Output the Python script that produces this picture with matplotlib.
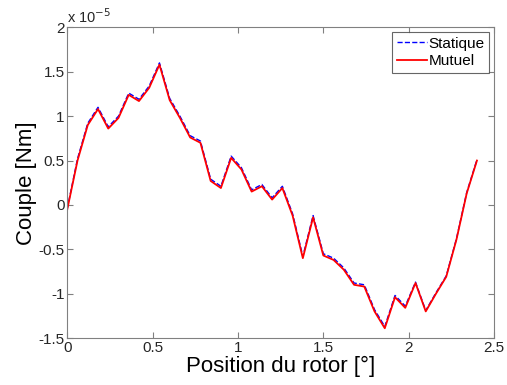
import matplotlib
matplotlib.use("Agg")
import matplotlib.pyplot as plt

plt.rcParams['font.family'] = ['Liberation Sans', 'DejaVu Sans']

# rotor position [deg]
position = [0.00, 0.06, 0.12, 0.18, 0.24, 0.30, 0.36, 0.42, 0.48, 0.54,
            0.60, 0.66, 0.72, 0.78, 0.84, 0.90, 0.96, 1.02, 1.08, 1.14,
            1.20, 1.26, 1.32, 1.38, 1.44, 1.50, 1.56, 1.62, 1.68, 1.74,
            1.80, 1.86, 1.92, 1.98, 2.04, 2.10, 2.16, 2.22, 2.28, 2.34, 2.40]

# torque, in units of 1e-5 Nm
mutuel = [-0.05, 0.50, 0.90, 1.08, 0.86, 0.98, 1.24, 1.17, 1.32, 1.58,
          1.18, 0.98, 0.76, 0.70, 0.27, 0.19, 0.53, 0.40, 0.15, 0.21,
          0.06, 0.19, -0.12, -0.60, -0.14, -0.57, -0.62, -0.73, -0.90, -0.92,
          -1.20, -1.39, -1.04, -1.16, -0.88, -1.20, -1.00, -0.81, -0.39, 0.13, 0.50]

statique = [-0.04, 0.52, 0.92, 1.10, 0.88, 1.00, 1.26, 1.19, 1.34, 1.60,
            1.20, 1.00, 0.78, 0.72, 0.29, 0.21, 0.55, 0.42, 0.17, 0.23,
            0.08, 0.21, -0.10, -0.58, -0.12, -0.55, -0.60, -0.71, -0.88, -0.90,
            -1.18, -1.37, -1.02, -1.14, -0.87, -1.19, -0.99, -0.80, -0.38, 0.14, 0.51]

fig = plt.figure(figsize=(5.07, 3.85), dpi=100)
ax = fig.add_axes([0.1327, 0.122, 0.8417, 0.8068])

ax.plot(position, statique, color='#0000ff', linestyle='--', linewidth=1.0, label='Statique')
ax.plot(position, mutuel, color='#ff0000', linestyle='-', linewidth=1.3, label='Mutuel')

ax.set_xlim(0, 2.5)
ax.set_ylim(-1.5, 2)
ax.set_xticks([0, 0.5, 1, 1.5, 2, 2.5])
ax.set_xticklabels(['0', '0.5', '1', '1.5', '2', '2.5'])
ax.set_yticks([-1.5, -1, -0.5, 0, 0.5, 1, 1.5, 2])
ax.set_yticklabels(['-1.5', '-1', '-0.5', '0', '0.5', '1', '1.5', '2'])

for s in ax.spines.values():
    s.set_color('#808080')
    s.set_linewidth(0.8)
ax.tick_params(direction='in', top=True, right=True, length=4, width=0.8,
               color='#808080', labelsize=11, labelcolor='#262626', pad=2)

ax.text(0.0, 1.005, r'x 10$^{-5}$', transform=ax.transAxes, fontsize=10.5,
        color='#262626', va='bottom', ha='left')

ax.set_xlabel('Position du rotor [°]', fontsize=16, labelpad=1)
ax.set_ylabel('Couple [Nm]', fontsize=16, labelpad=1)

leg = ax.legend(loc='upper right', fontsize=11, frameon=True, fancybox=False,
                handlelength=2.0, handletextpad=0.1, borderpad=0.3,
                labelspacing=0.25, borderaxespad=0.3)
leg.get_frame().set_edgecolor('#404040')
leg.get_frame().set_linewidth(0.8)

fig.savefig('out.png', dpi=100)
